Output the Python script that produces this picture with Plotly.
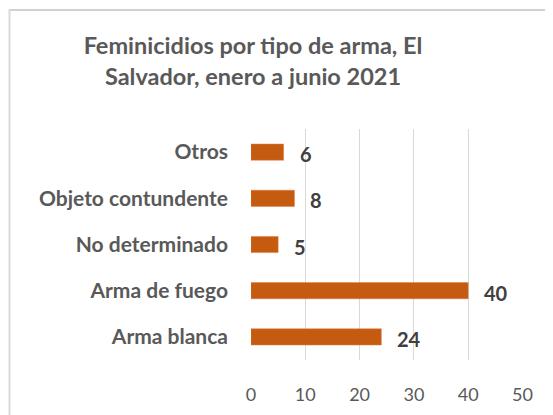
import plotly.graph_objects as go

categories = ["Arma blanca", "Arma de fuego", "No determinado", "Objeto contundente", "Otros"]
values = [24, 40, 5, 8, 6]
tick_vals = [0, 10, 20, 30, 40, 50]

# the page body has an 8px margin, so the figure is sized/positioned to compensate
OFF = 8
W, H = 553 - OFF, 415 - OFF
FONT = "Lato, Open Sans, sans-serif"


def px_x(x):
    return (x - OFF) / W


def px_y(y):
    return 1 - (y - OFF) / H


fig = go.Figure()
fig.add_trace(go.Bar(
    y=categories, x=values, orientation="h",
    marker=dict(color="#C55A11", line=dict(color="#E07A3A", width=0.5)),
    hoverinfo="skip",
))

for c, v in zip(categories, values):
    fig.add_annotation(x=v, y=c, text=f"<b>{v}</b>", showarrow=False,
                       xanchor="left", xshift=14, yshift=-2,
                       font=dict(family=FONT, size=20, color="#404040"))

# chart-area border (top and left edges visible; the rest is cropped)
fig.add_shape(type="line", xref="paper", yref="paper",
              x0=px_x(9.5), x1=1.0, y0=px_y(10), y1=px_y(10),
              line=dict(color="#D0D0D0", width=2), layer="above")
fig.add_shape(type="line", xref="paper", yref="paper",
              x0=px_x(9.5), x1=px_x(9.5), y0=0.0, y1=px_y(9),
              line=dict(color="#D9D9D9", width=2), layer="above")

fig.update_layout(
    width=W, height=H,
    margin=dict(l=0, r=0, t=0, b=0, autoexpand=False),
    paper_bgcolor="white", plot_bgcolor="white",
    showlegend=False,
    bargap=0.65,
    title=dict(text="<b>Feminicidios por tipo de arma, El<br>Salvador, enero a junio 2021</b>",
               x=px_x(253), xanchor="center", y=px_y(54), yanchor="top",
               font=dict(family=FONT, size=23.5, color="#595959")),
    xaxis=dict(domain=[px_x(251), px_x(522.5)], range=[0, 50], tickvals=tick_vals,
               automargin=False,
               showgrid=True, gridcolor="#D9D9D9", gridwidth=1.2,
               zeroline=False, showline=False, ticks="",
               ticklabelstandoff=22,
               tickfont=dict(family=FONT, size=18, color="#595959")),
    yaxis=dict(domain=[px_y(360), px_y(129)], categoryorder="array",
               automargin=False,
               categoryarray=categories, showgrid=False, zeroline=False,
               showline=False, ticks="", ticklabelstandoff=22,
               tickfont=dict(family=FONT, size=21, color="#595959", weight="bold")),
)

fig.write_html("out.html")
